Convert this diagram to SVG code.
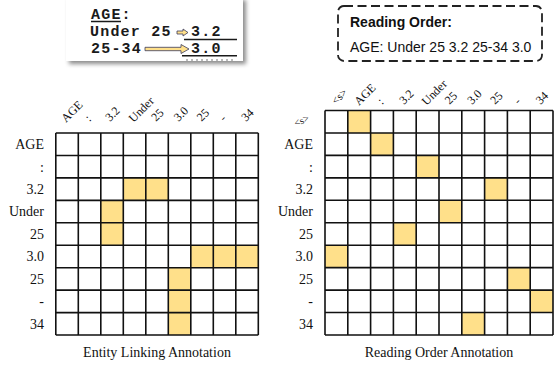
<svg xmlns="http://www.w3.org/2000/svg" width="554" height="365" viewBox="0 0 554 365">
<style>
.ser{font-family:"Liberation Serif","Times New Roman",serif;fill:#111}
.rl{font-size:14px;text-anchor:end}
.cl{font-size:12px}
.cap{font-size:14px;text-anchor:middle}
.mono{font-family:"Liberation Mono","Courier New",monospace;font-weight:bold;font-size:15px;letter-spacing:1.2px;fill:#1a1a1a}
.sans{font-family:"Liberation Sans",Arial,sans-serif;font-size:14px;fill:#111}
.hl{fill:#FFE08A}
.grid{fill:none;stroke:#111;stroke-width:1.6}
.arr{fill:#FFE08A;stroke:#3a3a5a;stroke-width:0.8}
.ul{stroke:#1a1a1a;stroke-width:1.5}
</style>
<defs>
<filter id="sh" x="-10%" y="-10%" width="130%" height="140%"><feDropShadow dx="3" dy="3" stdDeviation="2" flood-color="#000" flood-opacity="0.45"/></filter>
</defs>
<rect width="554" height="365" fill="#fff"/>

<g id="form-snippet">
<rect x="66" y="-3" width="177" height="64" fill="#fff" filter="url(#sh)"/>
<text class="mono" x="91" y="19">AGE:</text>
<line class="ul" x1="91" y1="21.5" x2="121" y2="21.5"/>
<text class="mono" x="90" y="35.5">Under 25</text>
<text class="mono" x="91" y="52.5">25-34</text>
<text class="mono" x="191" y="35.5">3.2</text>
<text class="mono" x="191" y="52.5">3.0</text>
<line class="ul" x1="184" y1="39.5" x2="237" y2="39.5"/>
<line class="ul" x1="182" y1="55.8" x2="237" y2="55.8"/>
<line x1="186" y1="60" x2="234" y2="60" stroke="#777" stroke-width="1.2" stroke-dasharray="2 3"/>
</g>

<g id="connectors">
<polygon class="arr" points="177,31 183,31 183,29 188,32.5 183,36 183,34 177,34"/>
<polygon class="arr" points="145,47.3 181,47.3 181,44.5 189,49 181,53.5 181,50.7 145,50.7"/>
</g>

<g id="reading-order-box">
<rect x="338" y="6" width="204" height="55" rx="6" fill="none" stroke="#222" stroke-width="1.8" stroke-dasharray="9 4.5"/>
<text class="sans" x="350" y="27" font-weight="bold">Reading Order:</text>
<text class="sans" x="350" y="51.5">AGE: Under 25 3.2 25-34 3.0</text>
</g>

<g id="entity-linking-matrix">
<g id="el-highlights">
<rect class="hl" x="123.3" y="177.9" width="22.5" height="22.45"/>
<rect class="hl" x="145.8" y="177.9" width="22.5" height="22.45"/>
<rect class="hl" x="100.8" y="200.35" width="22.5" height="22.45"/>
<rect class="hl" x="100.8" y="222.8" width="22.5" height="22.45"/>
<rect class="hl" x="190.8" y="245.25" width="22.5" height="22.45"/>
<rect class="hl" x="213.3" y="245.25" width="22.5" height="22.45"/>
<rect class="hl" x="235.8" y="245.25" width="22.5" height="22.45"/>
<rect class="hl" x="168.3" y="267.7" width="22.5" height="22.45"/>
<rect class="hl" x="168.3" y="290.15" width="22.5" height="22.45"/>
<rect class="hl" x="168.3" y="312.6" width="22.5" height="22.45"/>
</g>
<path class="grid" d="M55.8 133V335.05M78.3 133V335.05M100.8 133V335.05M123.3 133V335.05M145.8 133V335.05M168.3 133V335.05M190.8 133V335.05M213.3 133V335.05M235.8 133V335.05M258.3 133V335.05
M55.8 133H258.3M55.8 155.45H258.3M55.8 177.9H258.3M55.8 200.35H258.3M55.8 222.8H258.3M55.8 245.25H258.3M55.8 267.7H258.3M55.8 290.15H258.3M55.8 312.6H258.3M55.8 335.05H258.3"/>
<g class="ser rl">
<text x="44" y="149">AGE</text>
<text x="44" y="171.5">:</text>
<text x="44" y="194">3.2</text>
<text x="44" y="216.4">Under</text>
<text x="44" y="238.8">25</text>
<text x="44" y="261.3">3.0</text>
<text x="44" y="283.7">25</text>
<text x="44" y="306.2">-</text>
<text x="44" y="328.6">34</text>
</g>
<g class="ser cl">
<text transform="translate(66,123) rotate(-45)">AGE</text>
<text transform="translate(89.5,122) rotate(-45)">:</text>
<text transform="translate(110,122) rotate(-45)">3.2</text>
<text transform="translate(133.5,123) rotate(-45)">Under</text>
<text transform="translate(156,122) rotate(-45)">25</text>
<text transform="translate(178.5,122) rotate(-45)">3.0</text>
<text transform="translate(201.5,122) rotate(-45)">25</text>
<text transform="translate(224,122) rotate(-45)">-</text>
<text transform="translate(246,122) rotate(-45)">34</text>
</g>
<text class="ser cap" x="157" y="357">Entity Linking Annotation</text>
</g>

<g id="reading-order-matrix">
<g id="ro-highlights">
<rect class="hl" x="347.8" y="110.5" width="22.8" height="22.45"/>
<rect class="hl" x="370.6" y="132.95" width="22.8" height="22.45"/>
<rect class="hl" x="416.2" y="155.4" width="22.8" height="22.45"/>
<rect class="hl" x="484.6" y="177.85" width="22.8" height="22.45"/>
<rect class="hl" x="439" y="200.3" width="22.8" height="22.45"/>
<rect class="hl" x="393.4" y="222.75" width="22.8" height="22.45"/>
<rect class="hl" x="325" y="245.2" width="22.8" height="22.45"/>
<rect class="hl" x="507.4" y="267.65" width="22.8" height="22.45"/>
<rect class="hl" x="530.2" y="290.1" width="22.8" height="22.45"/>
<rect class="hl" x="461.8" y="312.55" width="22.8" height="22.45"/>
</g>
<path class="grid" d="M325 110.5V335M347.8 110.5V335M370.6 110.5V335M393.4 110.5V335M416.2 110.5V335M439 110.5V335M461.8 110.5V335M484.6 110.5V335M507.4 110.5V335M530.2 110.5V335M553 110.5V335
M325 110.5H553M325 132.95H553M325 155.4H553M325 177.85H553M325 200.3H553M325 222.75H553M325 245.2H553M325 267.65H553M325 290.1H553M325 312.55H553M325 335H553"/>
<g class="ser rl">
<text x="313" y="149">AGE</text>
<text x="313" y="171.5">:</text>
<text x="313" y="194">3.2</text>
<text x="313" y="216.4">Under</text>
<text x="313" y="238.8">25</text>
<text x="313" y="261.3">3.0</text>
<text x="313" y="283.7">25</text>
<text x="313" y="306.2">-</text>
<text x="313" y="328.6">34</text>
</g>
<text class="ser" font-size="10" text-anchor="middle" transform="translate(302,121.5) rotate(-25)" y="2.3">&lt;s&gt;</text>
<g class="ser cl">
<text font-size="11" transform="translate(336,105) rotate(-45)">&lt;s&gt;</text>
<text transform="translate(359,106) rotate(-45)">AGE</text>
<text transform="translate(382,105) rotate(-45)">:</text>
<text transform="translate(404,105) rotate(-45)">3.2</text>
<text transform="translate(426.5,106) rotate(-45)">Under</text>
<text transform="translate(449.5,105) rotate(-45)">25</text>
<text transform="translate(472,105) rotate(-45)">3.0</text>
<text transform="translate(495,105) rotate(-45)">25</text>
<text transform="translate(518.5,105) rotate(-45)">-</text>
<text transform="translate(540.5,105) rotate(-45)">34</text>
</g>
<text class="ser cap" x="439" y="357">Reading Order Annotation</text>
</g>
</svg>
